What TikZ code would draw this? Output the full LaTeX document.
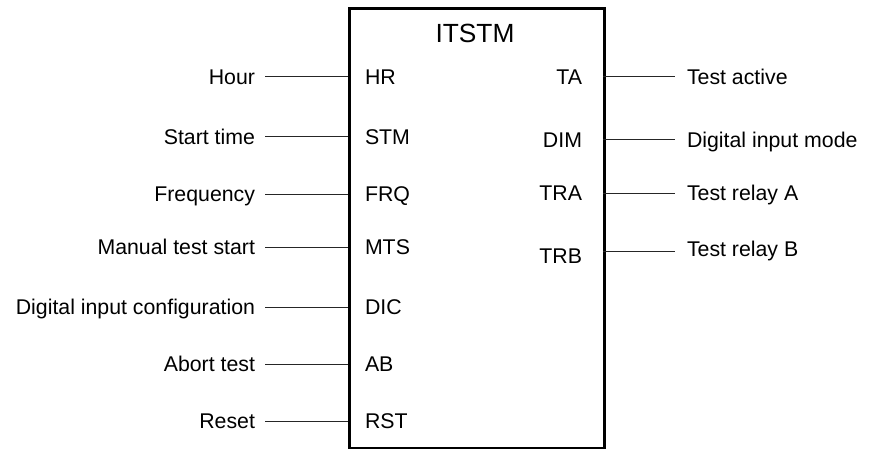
\documentclass[tikz,border=0pt]{standalone}
\usepackage{fontspec}
\setmainfont{Liberation Sans}
\begin{document}
\begin{tikzpicture}[x=1pt,y=-1pt,
  lbl/.style={inner sep=0pt,outer sep=0pt,text height=15.3pt,text depth=0pt,font=\fontsize{21.3}{25}\selectfont},
  wire/.style={line width=1pt,black!85},
  blk/.style={draw,line width=2.6pt,inner sep=0pt}]
\useasboundingbox (0,0) rectangle (869,449);
% function block
\node[blk,minimum width=255pt,minimum height=439.5pt,anchor=north west] (box) at (348,7.5) {};
\node[inner sep=0pt,font=\fontsize{26.3}{30}\selectfont,text height=18.8pt,text depth=0pt] (title) at (475,33) {ITSTM};
% inputs
\foreach \nm/\pin/\txt/\yy in {hr/HR/Hour/77, stm/STM/Start time/137, frq/FRQ/Frequency/194,
    mts/MTS/Manual test start/247, dic/DIC/Digital input configuration/307,
    ab/AB/Abort test/364, rst/RST/Reset/421}{
  \coordinate (in-\nm) at (348,\yy);
  \coordinate (inw-\nm) at (265,\yy);
  \node[lbl,anchor=west] (p-\nm) at (365,\yy) {\pin};
  \node[lbl,anchor=east] (t-\nm) at (255,\yy) {\txt};
  \draw[wire] (inw-\nm) -- (in-\nm);
}
% outputs
\foreach \nm/\pin/\txt/\yy/\py/\ty in {ta/TA/Test active/77/77/77, dim/DIM/Digital input mode/140/140/140,
    tra/TRA/Test relay A/193/193/193, trb/TRB/Test relay B/251/256/249}{
  \coordinate (out-\nm) at (603,\yy);
  \coordinate (oute-\nm) at (675,\yy);
  \node[lbl,anchor=east] (p-\nm) at (582,\py) {\pin};
  \node[lbl,anchor=west] (t-\nm) at (687,\ty) {\txt};
  \draw[wire] (out-\nm) -- (oute-\nm);
}
\end{tikzpicture}
\end{document}
